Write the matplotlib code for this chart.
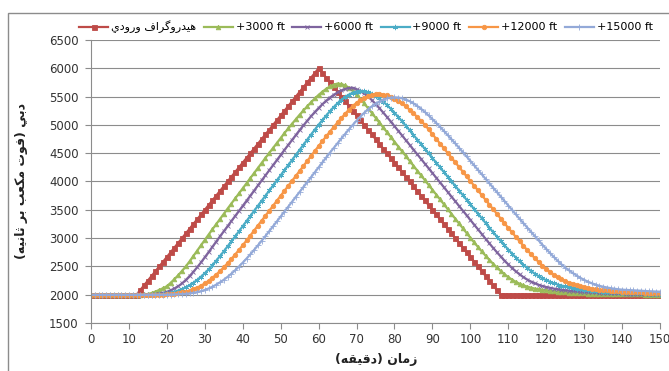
import matplotlib
matplotlib.use('Agg')
import matplotlib.pyplot as plt
from matplotlib.patches import Rectangle

# time axis (minutes)
minutes = list(range(0, 151))

inflow = [
    2000, 2000, 2000, 2000, 2000, 2000, 2000, 2000, 2000, 2000,
    2000, 2000, 2000, 2083, 2167, 2250, 2333, 2417, 2500, 2583,
    2667, 2750, 2833, 2917, 3000, 3083, 3167, 3250, 3333, 3417,
    3500, 3583, 3667, 3750, 3833, 3917, 4000, 4083, 4167, 4250,
    4333, 4417, 4500, 4583, 4667, 4750, 4833, 4917, 5000, 5083,
    5167, 5250, 5333, 5417, 5500, 5583, 5667, 5750, 5833, 5917,
    6000, 5917, 5833, 5750, 5667, 5583, 5500, 5417, 5333, 5250,
    5167, 5083, 5000, 4917, 4833, 4750, 4667, 4583, 4500, 4417,
    4333, 4250, 4167, 4083, 4000, 3917, 3833, 3750, 3667, 3583,
    3500, 3417, 3333, 3250, 3167, 3083, 3000, 2917, 2833, 2750,
    2667, 2583, 2500, 2417, 2333, 2250, 2167, 2083, 2000, 2000,
    2000, 2000, 2000, 2000, 2000, 2000, 2000, 2000, 2000, 2000,
    2000, 2000, 2000, 2000, 2000, 2000, 2000, 2000, 2000, 2000,
    2000, 2000, 2000, 2000, 2000, 2000, 2000, 2000, 2000, 2000,
    2000, 2000, 2000, 2000, 2000, 2000, 2000, 2000, 2000, 2000,
    2000]

ft3000 = [
    2000, 2000, 2000, 2000, 2000, 2000, 2000, 2000, 2000, 2000,
    2000, 2000, 2000, 2000, 2004, 2012, 2030, 2055, 2085, 2115,
    2150, 2210, 2275, 2345, 2420, 2500, 2590, 2685, 2780, 2875,
    2970, 3062, 3154, 3246, 3338, 3430, 3520, 3610, 3700, 3790,
    3880, 3970, 4060, 4150, 4240, 4330, 4418, 4506, 4594, 4682,
    4770, 4855, 4938, 5020, 5100, 5180, 5255, 5328, 5400, 5467,
    5530, 5587, 5637, 5680, 5712, 5730, 5722, 5698, 5658, 5604,
    5538, 5463, 5382, 5298, 5213, 5128, 5043, 4958, 4873, 4788,
    4703, 4618, 4533, 4448, 4363, 4278, 4193, 4108, 4023, 3938,
    3853, 3768, 3683, 3598, 3513, 3428, 3343, 3258, 3173, 3089,
    3006, 2924, 2844, 2766, 2690, 2617, 2547, 2481, 2419, 2362,
    2311, 2266, 2227, 2194, 2166, 2143, 2124, 2108, 2095, 2084,
    2075, 2067, 2060, 2053, 2047, 2042, 2037, 2033, 2029, 2026,
    2023, 2020, 2018, 2016, 2014, 2012, 2011, 2010, 2009, 2008,
    2007, 2006, 2005, 2005, 2004, 2004, 2003, 2003, 2002, 2002,
    2002]

ft6000 = [
    2000, 2000, 2000, 2000, 2000, 2000, 2000, 2000, 2000, 2000,
    2000, 2000, 2000, 2000, 2000, 2000, 2003, 2010, 2020, 2033,
    2050, 2078, 2110, 2150, 2200, 2260, 2330, 2405, 2485, 2570,
    2660, 2752, 2845, 2938, 3030, 3120, 3210, 3300, 3390, 3480,
    3570, 3660, 3750, 3840, 3930, 4020, 4110, 4200, 4290, 4380,
    4470, 4558, 4646, 4734, 4822, 4908, 4992, 5073, 5152, 5227,
    5298, 5365, 5427, 5483, 5532, 5574, 5608, 5634, 5650, 5656,
    5630, 5598, 5555, 5502, 5440, 5372, 5298, 5221, 5142, 5061,
    4979, 4896, 4813, 4730, 4647, 4564, 4481, 4398, 4315, 4232,
    4149, 4066, 3983, 3900, 3817, 3734, 3651, 3568, 3485, 3402,
    3319, 3236, 3153, 3070, 2988, 2907, 2828, 2750, 2675, 2603,
    2535, 2471, 2412, 2358, 2310, 2268, 2232, 2201, 2175, 2153,
    2135, 2120, 2107, 2096, 2086, 2078, 2071, 2065, 2059, 2054,
    2050, 2046, 2042, 2039, 2036, 2033, 2030, 2028, 2026, 2024,
    2022, 2020, 2018, 2016, 2015, 2013, 2012, 2011, 2010, 2009,
    2008]

ft9000 = [
    2000, 2000, 2000, 2000, 2000, 2000, 2000, 2000, 2000, 2000,
    2000, 2000, 2000, 2000, 2000, 2000, 2000, 2002, 2006, 2013,
    2022, 2035, 2052, 2074, 2100, 2130, 2168, 2212, 2262, 2318,
    2380, 2448, 2522, 2600, 2682, 2766, 2852, 2941, 3031, 3121,
    3211, 3301, 3391, 3481, 3571, 3661, 3751, 3841, 3931, 4021,
    4111, 4201, 4291, 4381, 4471, 4561, 4651, 4740, 4829, 4917,
    5003, 5085, 5165, 5243, 5316, 5383, 5443, 5494, 5536, 5568,
    5589, 5598, 5595, 5580, 5553, 5515, 5468, 5413, 5352, 5286,
    5215, 5141, 5064, 4985, 4905, 4824, 4742, 4660, 4578, 4496,
    4414, 4332, 4250, 4168, 4086, 4004, 3922, 3840, 3758, 3676,
    3594, 3512, 3430, 3348, 3266, 3185, 3105, 3026, 2948, 2872,
    2798, 2726, 2657, 2591, 2529, 2471, 2418, 2370, 2327, 2289,
    2256, 2227, 2202, 2180, 2161, 2145, 2131, 2118, 2107, 2097,
    2088, 2080, 2073, 2067, 2061, 2056, 2051, 2047, 2043, 2039,
    2036, 2033, 2030, 2028, 2026, 2024, 2022, 2020, 2018, 2017,
    2015]

ft12000 = [
    2000, 2000, 2000, 2000, 2000, 2000, 2000, 2000, 2000, 2000,
    2000, 2000, 2000, 2000, 2000, 2000, 2000, 2000, 2000, 2003,
    2006, 2011, 2018, 2027, 2039, 2054, 2073, 2097, 2126, 2160,
    2200, 2246, 2298, 2355, 2417, 2484, 2555, 2630, 2709, 2790,
    2873, 2958, 3045, 3133, 3221, 3309, 3397, 3485, 3573, 3661,
    3749, 3837, 3925, 4013, 4101, 4189, 4277, 4365, 4453, 4541,
    4628, 4714, 4799, 4882, 4964, 5044, 5122, 5197, 5268, 5333,
    5390, 5438, 5477, 5507, 5528, 5540, 5543, 5537, 5522, 5498,
    5466, 5426, 5379, 5326, 5268, 5206, 5141, 5073, 5003, 4920,
    4837, 4754, 4671, 4588, 4505, 4422, 4339, 4256, 4173, 4090,
    4007, 3924, 3841, 3758, 3675, 3592, 3509, 3426, 3343, 3261,
    3180, 3100, 3021, 2942, 2864, 2788, 2715, 2645, 2578, 2515,
    2456, 2402, 2353, 2309, 2270, 2240, 2211, 2186, 2164, 2146,
    2130, 2118, 2107, 2097, 2089, 2082, 2075, 2069, 2064, 2059,
    2055, 2051, 2047, 2044, 2041, 2039, 2037, 2035, 2033, 2031,
    2030]

ft15000 = [
    2000, 2000, 2000, 2000, 2000, 2000, 2000, 2000, 2000, 2000,
    2000, 2000, 2000, 2000, 2000, 2000, 2000, 2000, 2000, 2000,
    2000, 2002, 2004, 2007, 2011, 2016, 2023, 2033, 2046, 2063,
    2084, 2110, 2141, 2177, 2218, 2264, 2315, 2371, 2432, 2497,
    2566, 2638, 2713, 2791, 2871, 2953, 3037, 3122, 3208, 3295,
    3382, 3469, 3556, 3643, 3730, 3817, 3904, 3991, 4078, 4165,
    4252, 4339, 4425, 4510, 4594, 4677, 4760, 4842, 4922, 5000,
    5075, 5146, 5212, 5272, 5326, 5373, 5413, 5445, 5468, 5482,
    5487, 5483, 5470, 5448, 5418, 5380, 5335, 5284, 5228, 5167,
    5103, 5036, 4967, 4896, 4823, 4749, 4674, 4598, 4521, 4443,
    4365, 4286, 4207, 4128, 4049, 3970, 3891, 3812, 3733, 3654,
    3575, 3496, 3418, 3340, 3263, 3187, 3112, 3035, 2958, 2882,
    2808, 2736, 2667, 2601, 2538, 2479, 2430, 2383, 2339, 2298,
    2262, 2230, 2202, 2178, 2158, 2141, 2127, 2115, 2105, 2096,
    2089, 2085, 2081, 2077, 2073, 2069, 2066, 2062, 2059, 2056,
    2053]

labels = ['هیدروگراف ورودی', '+3000 ft', '+6000 ft', '+9000 ft',
          '+12000 ft', '+15000 ft']
xlabel = 'زمان (دقیقه)'
ylabel = 'دبی (فوت مکعب بر ثانیه)'

# matplotlib has no arabic shaping, so pick the presentation forms by hand
FORMS = {
    'ا': ('\uFE8D', '\uFE8E'),
    'ب': ('\uFE8F', '\uFE90', '\uFE91', '\uFE92'),
    'ت': ('\uFE95', '\uFE96', '\uFE97', '\uFE98'),
    'ث': ('\uFE99', '\uFE9A', '\uFE9B', '\uFE9C'),
    'د': ('\uFEA9', '\uFEAA'),
    'ر': ('\uFEAD', '\uFEAE'),
    'ز': ('\uFEAF', '\uFEB0'),
    'ع': ('\uFEC9', '\uFECA', '\uFECB', '\uFECC'),
    'ف': ('\uFED1', '\uFED2', '\uFED3', '\uFED4'),
    'ق': ('\uFED5', '\uFED6', '\uFED7', '\uFED8'),
    'ک': ('\uFED9', '\uFEDA', '\uFEDB', '\uFEDC'),
    'گ': ('\uFB92', '\uFB93', '\uFB94', '\uFB95'),
    'م': ('\uFEE1', '\uFEE2', '\uFEE3', '\uFEE4'),
    'ن': ('\uFEE5', '\uFEE6', '\uFEE7', '\uFEE8'),
    'ه': ('\uFEE9', '\uFEEA', '\uFEEB', '\uFEEC'),
    'و': ('\uFEED', '\uFEEE'),
    'ی': ('\uFEF1', '\uFEF2', '\uFEF3', '\uFEF4'),
}
MIRROR = {'(': ')', ')': '('}


def shape(s):
    if not any(c in FORMS for c in s):
        return s
    out = []
    for i, c in enumerate(s):
        if c not in FORMS:
            out.append(MIRROR.get(c, c))
            continue
        f = FORMS[c]
        prev = s[i - 1] if i > 0 else ''
        nxt = s[i + 1] if i + 1 < len(s) else ''
        jp = prev in FORMS and len(FORMS[prev]) == 4
        jn = len(f) == 4 and nxt in FORMS
        if jp and jn:
            out.append(f[3])
        elif jp:
            out.append(f[1])
        elif jn:
            out.append(f[2])
        else:
            out.append(f[0])
    return ''.join(reversed(out))


plt.rcParams['font.family'] = ['DejaVu Sans']

fig = plt.figure(figsize=(6.69, 3.71), dpi=100)
ax = fig.add_axes([91 / 669, 1 - 323 / 371, 569 / 669, 283 / 371])

series = [inflow, ft3000, ft6000, ft9000, ft12000, ft15000]
colors = ['#BE4B48', '#9BBB59', '#7E649E', '#4BACC6', '#F79646', '#93A9D8']
markers = ['s', '^', 'x', (6, 2, 0), 'o', '+']
msizes = [3.6, 3.3, 3.3, 3.8, 3.2, 3.8]

for vals, col, mk, ms, lab in zip(series, colors, markers, msizes, labels):
    ax.plot(minutes, vals, color=col, lw=1.6, marker=mk, ms=ms,
            mfc=col, mec=col, mew=0.6, label=shape(lab))

ax.set_xlim(0, 150)
ax.set_ylim(1500, 6500)
ax.set_xticks(range(0, 151, 10))
ax.set_yticks(range(1500, 6501, 500))
ax.yaxis.grid(True, color='#8C8C8C', lw=0.8)
ax.set_axisbelow(True)
for side in ['top', 'right']:
    ax.spines[side].set_visible(False)
for side in ['left', 'bottom']:
    ax.spines[side].set_color('#8C8C8C')
ax.tick_params(axis='both', direction='out', length=4, color='#8C8C8C',
               labelsize=8.5, labelcolor='#333333')
ax.tick_params(axis='x', pad=3)
ax.tick_params(axis='y', pad=5)

fig.text(376 / 669, 1 - 359 / 371, shape(xlabel), ha='center', va='center',
         fontsize=9, fontweight='bold', color='#222222')
fig.text(22 / 669, 1 - 181 / 371, shape(ylabel), ha='center', va='center',
         rotation=90, fontsize=9, fontweight='bold', color='#222222')

fig.legend(loc='center', bbox_to_anchor=(366 / 669, 1 - 27 / 371), ncol=6,
           frameon=False, fontsize=8, handlelength=2.6, handletextpad=0.25,
           columnspacing=0.7, numpoints=1)

# outer chart border, the right and bottom edges fall outside the image
fig.patches.append(Rectangle((8 / 669, -0.2), 1.2, 1 - 13 / 371 + 0.2,
                             transform=fig.transFigure, fill=False,
                             edgecolor='#8C8C8C', lw=1.0))

fig.savefig('out.png', dpi=100)
